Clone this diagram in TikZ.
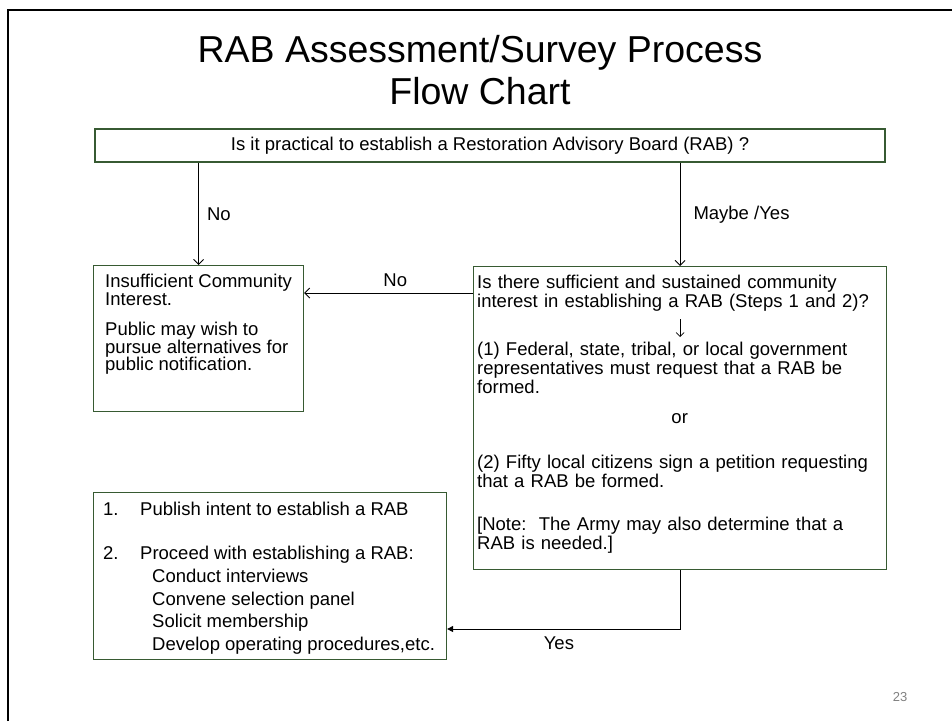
\documentclass[tikz,border=0pt]{standalone}
\usepackage{fontspec}
\setmainfont{Liberation Sans}
\usetikzlibrary{positioning,arrows.meta}
\definecolor{boxgreen}{RGB}{55,90,50}
\definecolor{pagegray}{RGB}{128,128,128}
\begin{document}
\begin{tikzpicture}[x=1pt,y=-1pt,>={Straight Barb[length=5pt,width=10pt]},
  box/.style={draw=boxgreen,line width=1.1pt,inner sep=0pt},
  txt/.style={inner sep=0pt,align=left},
  lbl/.style={inner sep=0pt,font=\fontsize{18.5}{19}\selectfont},
  conn/.style={line width=0.9pt}]
  \useasboundingbox (0,0) rectangle (952,721);
  % slide frame
  \draw[line width=2.5pt] (8,721) -- (8,10) -- (952,10);
  \node[anchor=base,font=\fontsize{37.5}{42}\selectfont] (title) at (480,62) {RAB Assessment/Survey Process};
  \node[anchor=base,font=\fontsize{37.5}{42}\selectfont] (subtitle) at (480,104) {Flow Chart};
  % boxes
  \node[box,minimum width=790,minimum height=33,font=\fontsize{18.5}{19}\selectfont] (practical) at (490,145.5)
    {Is it practical to establish a Restoration Advisory Board (RAB) ?};
  \node[box,anchor=north west,minimum width=210,minimum height=146] (insuff) at (93,265) {};
  \node[box,anchor=north west,minimum width=413,minimum height=303] (mainq) at (473,266) {};
  \node[box,anchor=north west,minimum width=353,minimum height=167] (steps) at (93,492) {};
  % texts
  \node[txt,font=\fontsize{18.5}{17.5}\selectfont,below right=9pt and 12pt of insuff.north west] (insufftext)
    {Insufficient Community\\Interest.\\[13pt]Public may wish to\\pursue alternatives for\\public notification.};
  \node[txt,text width=405pt,font=\fontsize{18.5}{19}\selectfont,below right=9pt and 4pt of mainq.north west] (mainqtext)
    {Is there sufficient and sustained community\\
     interest in establishing a RAB (Steps 1 and 2)?\\[29pt]
     (1) Federal, state, tribal, or local government\\
     representatives must request that a RAB be\\
     formed.\\[11pt]
     \makebox[\linewidth]{or}\\[26pt]
     (2) Fifty local citizens sign a petition requesting\\
     that a RAB be formed.\\[24pt]
     {[}Note:\ \ The Army may also determine that a\\
     RAB is needed.]};
  \node[txt,font=\fontsize{18.5}{22.75}\selectfont,below right=10pt and 10pt of steps.north west] (stepstext)
    {\makebox[37pt][l]{1.}Publish intent to establish a RAB\\[21.25pt]
     \makebox[37pt][l]{2.}Proceed with establishing a RAB:\\
     \hspace*{49pt}Conduct interviews\\
     \hspace*{49pt}Convene selection panel\\
     \hspace*{49pt}Solicit membership\\
     \hspace*{49pt}Develop operating procedures,etc.};
  % connectors
  \draw[line width=0.7pt,-{Straight Barb[length=4pt,width=8pt]}] ([yshift=-53pt]mainq.north) -- ([yshift=-71pt]mainq.north);
  \draw[conn,->] (insuff.north |- practical.south) -- (insuff.north)
    node[lbl,midway,right=8pt] (nolbl) {No};
  \draw[conn,->] (mainq.north |- practical.south) -- (mainq.north)
    node[lbl,midway,right=13pt] (maybelbl) {Maybe /Yes};
  \draw[conn,->] ([yshift=-27pt]mainq.north west) -- ([yshift=-27pt]mainq.north west -| insuff.east)
    node[lbl,pos=0.46,above=6pt] (nolbltwo) {No};
  \draw[conn,-{Triangle[length=6pt,width=6pt]}] (mainq.south) |- ([yshift=-137pt]steps.north east)
    node[lbl,pos=0.76,below=7pt] (yeslbl) {Yes};
  \node[text=pagegray,font=\fontsize{13}{15}\selectfont] (pagenum) at (900,697) {23};
\end{tikzpicture}
\end{document}
